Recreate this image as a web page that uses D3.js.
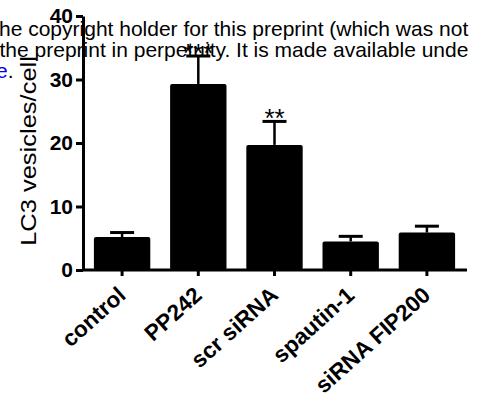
<!DOCTYPE html>
<html>
<head>
<meta charset="utf-8">
<script src="https://cdn.jsdelivr.net/npm/d3@7"></script>
<style>
  body { margin: 0; background: #fff; overflow: hidden; }
  svg { display: block; }
</style>
</head>
<body>
<script>
// Chart data
var categories = ['control', 'PP242', 'scr siRNA', 'spautin-1', 'siRNA FIP200'];
var means = [5.2, 29.3, 19.7, 4.5, 5.9];
var errors = [0.7, 4.4, 3.7, 0.8, 1.0];
var stars = ['', '***', '**', '', ''];
var yTicks = [0, 10, 20, 30, 40];

var width = 477;
var height = 410;
var font = 'Liberation Sans, Arial, sans-serif';

var svg = d3.select('body')
    .append('svg')
    .attr('width', width)
    .attr('height', height);

// Scales
var xScale = d3.scaleBand()
    .domain(categories)
    .range([84, 465])
    .paddingInner(0.26)
    .paddingOuter(0.13);

var yScale = d3.scaleLinear()
    .domain([0, 40])
    .range([270, 16]);

// Bars
svg.selectAll('.bar')
    .data(categories)
    .enter()
    .append('rect')
    .attr('class', 'bar')
    .attr('x', function(d){ return xScale(d); })
    .attr('y', function(d, i){ return yScale(means[i]); })
    .attr('width', xScale.bandwidth())
    .attr('height', function(d, i){ return yScale(0) - yScale(means[i]); })
    .attr('rx', 2)
    .attr('fill', '#000');

// Error bars (upper only)
var errG = svg.selectAll('.err')
    .data(categories)
    .enter()
    .append('g')
    .attr('class', 'err');

errG.append('line')
    .attr('x1', function(d){ return xScale(d) + xScale.bandwidth() / 2; })
    .attr('x2', function(d){ return xScale(d) + xScale.bandwidth() / 2; })
    .attr('y1', function(d, i){ return yScale(means[i]); })
    .attr('y2', function(d, i){ return yScale(means[i] + errors[i]); })
    .attr('stroke', '#000')
    .attr('stroke-width', 2.5);

errG.append('line')
    .attr('x1', function(d){ return xScale(d) + xScale.bandwidth() / 2 - 12; })
    .attr('x2', function(d){ return xScale(d) + xScale.bandwidth() / 2 + 12; })
    .attr('y1', function(d, i){ return yScale(means[i] + errors[i]); })
    .attr('y2', function(d, i){ return yScale(means[i] + errors[i]); })
    .attr('stroke', '#000')
    .attr('stroke-width', 3);

// Significance stars
svg.selectAll('.star')
    .data(categories)
    .enter()
    .append('text')
    .attr('class', 'star')
    .attr('x', function(d){ return xScale(d) + xScale.bandwidth() / 2; })
    .attr('y', function(d, i){ return yScale(means[i] + errors[i]) + 6; })
    .attr('text-anchor', 'middle')
    .attr('font-family', font)
    .attr('font-size', 26)
    .text(function(d, i){ return stars[i]; });

// Y axis
var yAxis = d3.axisLeft(yScale)
    .tickValues(yTicks)
    .tickSize(7)
    .tickPadding(3)
    .tickSizeOuter(0);

var yAxisGroup = svg.append('g')
    .attr('transform', 'translate(83,0)')
    .call(yAxis);

// X axis
var xAxis = d3.axisBottom(xScale)
    .tickSize(6)
    .tickSizeOuter(0)
    .tickFormat('');

var xAxisGroup = svg.append('g')
    .attr('transform', 'translate(0,270)')
    .call(xAxis);
xAxisGroup.select('.domain').attr('d', 'M82,0H467');

svg.selectAll('.domain, .tick line')
    .attr('stroke', '#000')
    .attr('stroke-width', 3);

yAxisGroup.selectAll('.tick text')
    .attr('font-family', font)
    .attr('font-weight', 'bold')
    .attr('font-size', 21)
    .attr('fill', '#000');

// Rotated category labels
svg.selectAll('.xlab')
    .data(categories)
    .enter()
    .append('text')
    .attr('class', 'xlab')
    .attr('transform', function(d){
        var x = xScale(d) + xScale.bandwidth() / 2 + 5;
        return 'translate(' + x + ',297) rotate(-42)';
    })
    .attr('text-anchor', 'end')
    .attr('font-family', font)
    .attr('font-weight', 'bold')
    .attr('font-size', 22.5)
    .text(function(d){ return d; });

// Y axis title
svg.append('text')
    .attr('transform', 'translate(36,151) rotate(-90) scale(1,0.88)')
    .attr('text-anchor', 'middle')
    .attr('font-family', font)
    .attr('font-size', 25.5)
    .text('LC3 vesicles/cell');

// Preprint notice overlay
var notice = svg.append('g')
    .attr('font-family', font)
    .attr('font-size', 21)
    .attr('fill', '#000');
notice.append('text').attr('x', -1).attr('y', 36)
    .text('he copyright holder for this preprint (which was not');
notice.append('text').attr('x', -0.5).attr('y', 57)
    .text('the preprint in perpetuity. It is made available unde');
var last = notice.append('text').attr('x', -4).attr('y', 78);
last.append('tspan').attr('fill', '#0000ee').text('e');
last.append('tspan').text('.');
</script>
</body>
</html>
